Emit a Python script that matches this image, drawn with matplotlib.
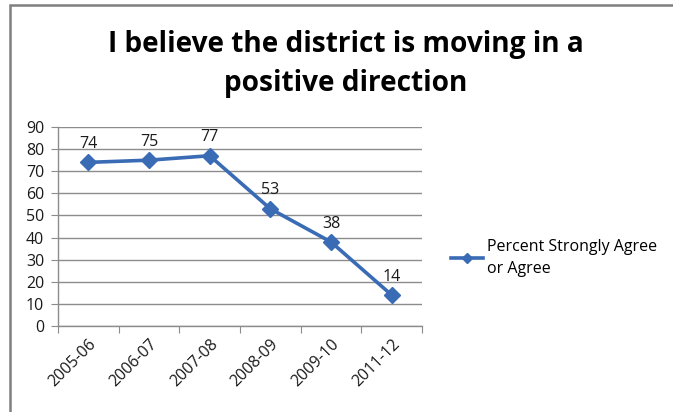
import matplotlib
matplotlib.use("Agg")
import matplotlib.pyplot as plt
from matplotlib.patches import Rectangle

# data
years = ["2005-06", "2006-07", "2007-08", "2008-09", "2009-10", "2011-12"]
percent_agree = [74, 75, 77, 53, 38, 14]
series_name = "Percent Strongly Agree\nor Agree"
title = "I believe the district is moving in a\npositive direction"

plt.rcParams['font.family'] = ['Open Sans', 'DejaVu Sans']
blue = '#3A6BB5'
grid_col = '#8C8C8C'
txt = '#1a1a1a'
fs = 11.5

fig = plt.figure(figsize=(6.73, 4.12), dpi=100)
ax = fig.add_axes([58 / 673, 86 / 412, 364 / 673, 199 / 412])

# outer chart border (runs off the right and bottom edge)
fig.patches.append(Rectangle((9.5 / 673, -0.2), 1.2, (407 / 412) + 0.2,
                             transform=fig.transFigure, fill=False,
                             edgecolor='#7F7F7F', linewidth=1.8, zorder=0))

x = list(range(len(years)))
line, = ax.plot(x, percent_agree, color=blue, linewidth=2.6, marker='D',
                markersize=8, markerfacecolor=blue, markeredgecolor=blue,
                label=series_name, zorder=3, clip_on=False)

for xi, v in zip(x, percent_agree):
    ax.annotate(str(v), (xi, v), xytext=(0, 7.5), textcoords='offset points',
                ha='center', va='bottom', fontsize=fs, color=txt)

ax.set_xlim(-0.5, len(years) - 0.5)
ax.set_ylim(0, 90)
ax.set_yticks(range(0, 91, 10))
ax.yaxis.grid(True, color=grid_col, linewidth=1)
ax.set_axisbelow(True)

# category ticks sit on the boundaries, labels at the centres
ax.set_xticks([i - 0.5 for i in range(len(years) + 1)])
ax.set_xticklabels([])
ax.set_xticks(x, minor=True)
ax.set_xticklabels(years, minor=True, rotation=45, ha='right',
                   rotation_mode='anchor', fontsize=fs, color=txt)
ax.tick_params(axis='x', which='major', length=5, color=grid_col)
ax.tick_params(axis='x', which='minor', length=0, pad=7)
ax.tick_params(axis='y', length=5, color=grid_col, labelsize=fs,
               labelcolor=txt, pad=5)

for s in ['top', 'right']:
    ax.spines[s].set_visible(False)
for s in ['left', 'bottom']:
    ax.spines[s].set_color(grid_col)
    ax.spines[s].set_linewidth(1)

fig.text(346 / 673, 1 - 64 / 412, title, ha='center', va='center',
         fontsize=20.2, fontweight='bold', linespacing=1.45)

leg = fig.legend(handles=[line], loc='center left',
                 bbox_to_anchor=(437 / 673, 1 - 258 / 412), frameon=False,
                 fontsize=fs, handlelength=2.0, handletextpad=0.25,
                 markerscale=0.6)
for t in leg.get_texts():
    t.set_linespacing(1.45)

fig.savefig('out.png', dpi=100)
